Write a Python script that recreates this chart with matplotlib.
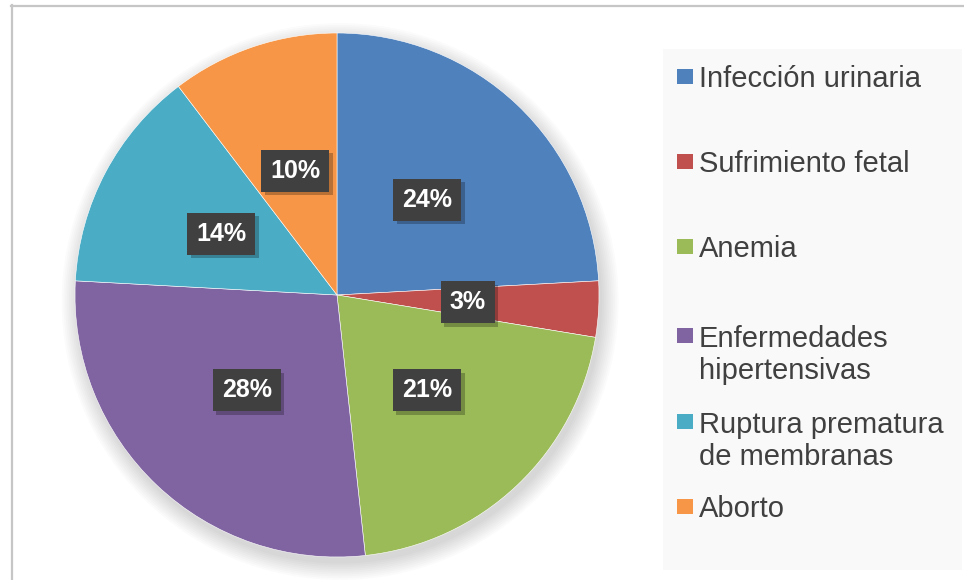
import matplotlib
matplotlib.use("Agg")
import matplotlib.pyplot as plt
from matplotlib.patches import Rectangle, Circle
from matplotlib import patheffects

# data: number of cases per complication (29 in total)
categories = ["Infección urinaria", "Sufrimiento fetal", "Anemia",
              "Enfermedades\nhipertensivas", "Ruptura prematura\nde membranas", "Aborto"]
counts = [7, 1, 6, 8, 4, 3]
colors = ["#4F81BD", "#C0504D", "#9BBB59", "#8064A2", "#4BACC6", "#F79646"]

plt.rcParams['font.family'] = ['Liberation Sans', 'DejaVu Sans']

W, H = 964, 580
fig = plt.figure(figsize=(W / 100, H / 100), dpi=100)
fig.patch.set_facecolor("white")

def fx(px):
    return px / W

def fy(py):
    return 1 - py / H

# outer frame of the chart area (only left and top edges are visible)
fig.add_artist(plt.Line2D([fx(11.5), fx(11.5)], [fy(5), fy(H + 5)], color="#c6c6c6", lw=1.6))
fig.add_artist(plt.Line2D([fx(11), fx(W + 5)], [fy(5.5), fy(5.5)], color="#c6c6c6", lw=1.6))

# legend background
fig.add_artist(Rectangle((fx(663), fy(570)), fx(962 - 663), (570 - 49) / H,
                         facecolor="#f9f9f9", edgecolor="none", zorder=0))

# pie
cx, cy, r = 337, 295, 262
ax = fig.add_axes([fx(cx - r), fy(cy + r), fx(2 * r), 2 * r / H])

# soft shadow under the pie
for i in range(10):
    ax.add_patch(Circle((0.012, -0.025), 1.0 + 0.007 * i, facecolor="black",
                        edgecolor="none", alpha=0.016, zorder=0, clip_on=False))

wedges, texts, autotexts = ax.pie(
    counts, colors=colors, startangle=90, counterclock=False,
    autopct="%.0f%%", pctdistance=0.5,
    wedgeprops=dict(edgecolor="white", linewidth=0.4),
    textprops=dict(color="white", fontsize=18, fontweight="bold"))
for w in wedges:
    w.set_zorder(2)
for t in autotexts:
    t.set_zorder(5)
    t.set_bbox(dict(boxstyle="square,pad=0.36", facecolor="#404040", edgecolor="none"))
    t.get_bbox_patch().set_path_effects([
        patheffects.SimplePatchShadow(offset=(2.5, -2.5), shadow_rgbFace="black", alpha=0.25),
        patheffects.Normal()])
ax.set_xlim(-1, 1)
ax.set_ylim(-1, 1)
ax.set_aspect("equal")
ax.axis("off")

# legend drawn by hand so two-line entries line up like the original
baselines = [87, 172, 257, 346, 432, 517]
line_gap = 33
for label, col, yb in zip(categories, colors, baselines):
    fig.add_artist(Rectangle((fx(677), fy(yb - 3)), fx(16), 15 / H,
                             facecolor=col, edgecolor="none"))
    last = yb + line_gap * label.count("\n")
    fig.text(fx(699), fy(last), label, fontsize=21, color="#404040",
             ha="left", va="baseline", linespacing=1.2)

fig.savefig("out.png", dpi=100)
